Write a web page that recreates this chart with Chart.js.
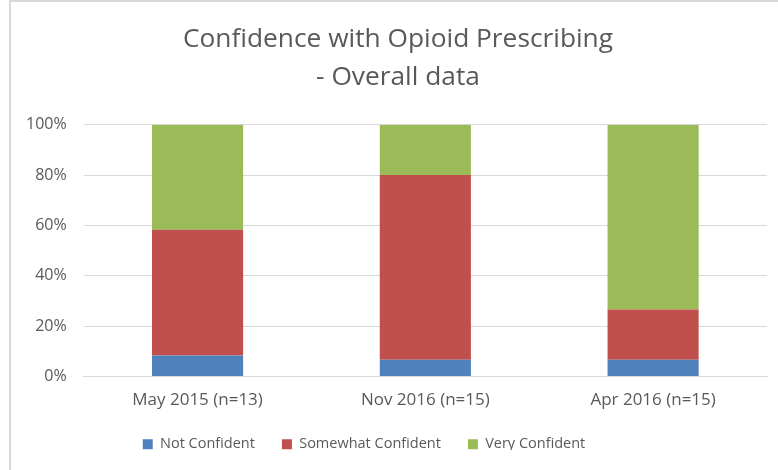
<!DOCTYPE html>
<html>
<head>
<meta charset="utf-8">
<script src="https://cdn.jsdelivr.net/npm/chart.js@4/dist/chart.umd.min.js"></script>
<style>
  html, body { margin: 0; padding: 0; background: #fff; overflow: hidden; }
  #wrap { position: relative; width: 778px; height: 470px; }
  #frame { position: absolute; left: 9px; top: 0; width: 800px; height: 500px;
           border-left: 2px solid #d9d9d9; border-top: 2px solid #d9d9d9; pointer-events: none; }
</style>
</head>
<body>
<div id="wrap">
  <canvas id="chart" width="778" height="470"></canvas>
  <div id="frame"></div>
</div>
<script>
// survey periods
const categories = ['May 2015 (n=13)', 'Nov 2016 (n=15)', 'Apr 2016 (n=15)'];

// share of answers, percent
const notConfident = [8.33, 6.67, 6.67];
const somewhatConfident = [50.0, 73.33, 20.0];
const veryConfident = [41.67, 20.0, 73.33];

const yTicks = ['0%', '20%', '40%', '60%', '80%', '100%'];

const textColor = '#595959';

// nudge title / legend like the excel original
const shiftPlugin = {
    id: 'shift',
    afterLayout(chart) {
        const lg = chart.legend;
        lg.left -= 24;
        lg.right -= 24;
        lg.top -= 5;
        lg.bottom -= 5;
        chart.titleBlock.left += 10;
        chart.titleBlock.right += 10;
    }
};

const ctx = document.getElementById('chart').getContext('2d');

new Chart(ctx, {
    type: 'bar',
    data: {
        labels: categories,
        datasets: [
            { label: 'Not Confident', data: notConfident, backgroundColor: '#4f81bd' },
            { label: 'Somewhat Confident', data: somewhatConfident, backgroundColor: '#c0504d' },
            { label: 'Very Confident', data: veryConfident, backgroundColor: '#9bbb59' }
        ]
    },
    options: {
        responsive: false,
        animation: false,
        layout: { padding: { left: 9, right: 11, top: 0, bottom: 15 } },
        datasets: { bar: { barPercentage: 0.4, categoryPercentage: 1.0 } },
        plugins: {
            title: {
                display: true,
                text: ['Confidence with Opioid Prescribing', '- Overall data'],
                color: textColor,
                font: { family: 'Open Sans', size: 26.3, weight: 'normal', lineHeight: 1.42 },
                padding: { top: 21, bottom: 29 }
            },
            legend: {
                position: 'bottom',
                maxHeight: 40,
                labels: {
                    color: textColor,
                    font: { family: 'Open Sans', size: 14.5 },
                    boxWidth: 10,
                    boxHeight: 10,
                    padding: 27
                }
            },
            tooltip: { enabled: false }
        },
        scales: {
            x: {
                stacked: true,
                grid: { display: false },
                border: { display: true, color: '#d9d9d9' },
                ticks: { color: textColor, font: { family: 'Open Sans', size: 17 }, padding: 5 }
            },
            y: {
                stacked: true,
                min: 0,
                max: 100,
                grid: { color: '#d9d9d9', drawTicks: false },
                border: { display: false },
                ticks: {
                    stepSize: 20,
                    padding: 17,
                    color: textColor,
                    font: { family: 'Open Sans', size: 16 },
                    callback: (v, i) => yTicks[i]
                }
            }
        }
    },
    plugins: [shiftPlugin]
});
</script>
</body>
</html>
